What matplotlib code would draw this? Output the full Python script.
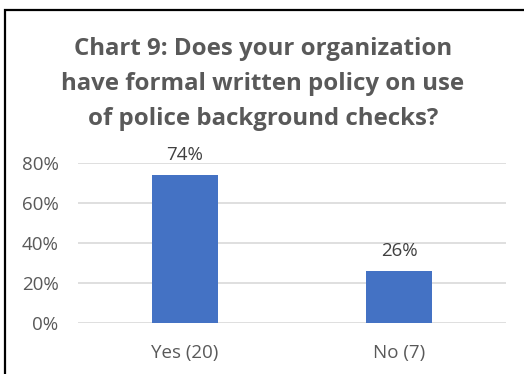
import matplotlib
matplotlib.use("Agg")
import matplotlib.pyplot as plt
from matplotlib.patches import Rectangle

categories = ["Yes (20)", "No (7)"]
shares = [0.74, 0.26]
yticks = [0.0, 0.2, 0.4, 0.6, 0.8]
title = "Chart 9: Does your organization\nhave formal written policy on use\nof police background checks?"

W, H = 524, 374
fig = plt.figure(figsize=(W / 100, H / 100), dpi=100)
fig.patch.set_facecolor("white")

# chart frame
fig.patches.append(Rectangle((5 / W, -0.1), 1.2, 1 - 10 / H + 0.1,
                             transform=fig.transFigure, fill=False,
                             edgecolor="black", linewidth=1.6))

ax = fig.add_axes([78 / W, 1 - 323 / H, (506 - 78) / W, (323 - 163) / H])
x = list(range(len(categories)))
ax.bar(x, shares, width=0.313, color="#4472C4", zorder=3)
ax.set_xlim(-0.5, 1.5)
ax.set_ylim(0, 0.8)
ax.set_yticks(yticks)
ax.set_yticklabels([f"{int(round(v * 100))}%" for v in yticks])
ax.set_xticks(x)
ax.set_xticklabels(categories)
for s in ax.spines.values():
    s.set_visible(False)
ax.grid(axis="y", color="#D9D9D9", linewidth=1.2, zorder=0)
ax.tick_params(length=0, labelsize=13.5, labelcolor="#595959")
ax.tick_params(axis="y", pad=14)
ax.tick_params(axis="x", pad=15)
for lab in ax.get_xticklabels() + ax.get_yticklabels():
    lab.set_family("Open Sans")

for xi, v in zip(x, shares):
    ax.annotate(f"{int(round(v * 100))}%", (xi, v), xytext=(0, 8),
                textcoords="offset points", ha="center", va="bottom",
                fontsize=13.5, color="#404040", family="Open Sans")

fig.text(263 / W, 1 - 37 / H, title, ha="center", va="top",
         fontsize=17.3, fontweight="bold", color="#595959",
         family="Open Sans", linespacing=1.62)

fig.savefig("out.png", dpi=100)
